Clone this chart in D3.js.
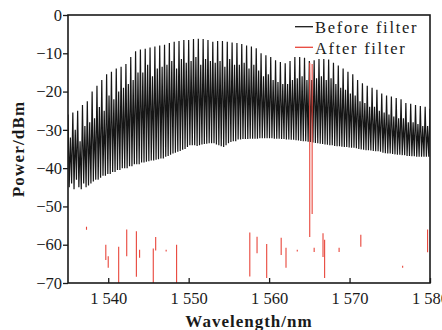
<!DOCTYPE html>
<html>
<head>
<meta charset="utf-8">
<script src="https://cdn.jsdelivr.net/npm/d3@7"></script>
<style>
  html, body { margin: 0; padding: 0; background: #fff; }
  text { font-family: "Liberation Serif", "Times New Roman", serif; fill: #1a1a1a; }
</style>
</head>
<body>
<div id="chart"></div>
<script>
// Before filter: comb spectrum, vertices (peak, trough, peak, ...)
const beforeWl = [
  1535.00, 1535.15, 1535.30, 1535.45, 1535.60, 1535.75, 1535.90, 1536.05, 1536.20, 1536.35, 1536.50, 1536.65, 1536.80, 1536.95, 1537.10, 1537.25, 1537.40, 1537.55, 1537.70, 1537.85,
  1538.00, 1538.15, 1538.30, 1538.45, 1538.60, 1538.75, 1538.90, 1539.05, 1539.20, 1539.35, 1539.50, 1539.65, 1539.80, 1539.95, 1540.10, 1540.25, 1540.40, 1540.55, 1540.70, 1540.85,
  1541.00, 1541.15, 1541.30, 1541.45, 1541.60, 1541.75, 1541.90, 1542.05, 1542.20, 1542.35, 1542.50, 1542.65, 1542.80, 1542.95, 1543.10, 1543.25, 1543.40, 1543.55, 1543.70, 1543.85,
  1544.00, 1544.15, 1544.30, 1544.45, 1544.60, 1544.75, 1544.90, 1545.05, 1545.20, 1545.35, 1545.50, 1545.65, 1545.80, 1545.95, 1546.10, 1546.25, 1546.40, 1546.55, 1546.70, 1546.85,
  1547.00, 1547.15, 1547.30, 1547.45, 1547.60, 1547.75, 1547.90, 1548.05, 1548.20, 1548.35, 1548.50, 1548.65, 1548.80, 1548.95, 1549.10, 1549.25, 1549.40, 1549.55, 1549.70, 1549.85,
  1550.00, 1550.15, 1550.30, 1550.45, 1550.60, 1550.75, 1550.90, 1551.05, 1551.20, 1551.35, 1551.50, 1551.65, 1551.80, 1551.95, 1552.10, 1552.25, 1552.40, 1552.55, 1552.70, 1552.85,
  1553.00, 1553.15, 1553.30, 1553.45, 1553.60, 1553.75, 1553.90, 1554.05, 1554.20, 1554.35, 1554.50, 1554.65, 1554.80, 1554.95, 1555.10, 1555.25, 1555.40, 1555.55, 1555.70, 1555.85,
  1556.00, 1556.15, 1556.30, 1556.45, 1556.60, 1556.75, 1556.90, 1557.05, 1557.20, 1557.35, 1557.50, 1557.65, 1557.80, 1557.95, 1558.10, 1558.25, 1558.40, 1558.55, 1558.70, 1558.85,
  1559.00, 1559.15, 1559.30, 1559.45, 1559.60, 1559.75, 1559.90, 1560.05, 1560.20, 1560.35, 1560.50, 1560.65, 1560.80, 1560.95, 1561.10, 1561.25, 1561.40, 1561.55, 1561.70, 1561.85,
  1562.00, 1562.15, 1562.30, 1562.45, 1562.60, 1562.75, 1562.90, 1563.05, 1563.20, 1563.35, 1563.50, 1563.65, 1563.80, 1563.95, 1564.10, 1564.25, 1564.40, 1564.55, 1564.70, 1564.85,
  1565.00, 1565.15, 1565.30, 1565.45, 1565.60, 1565.75, 1565.90, 1566.05, 1566.20, 1566.35, 1566.50, 1566.65, 1566.80, 1566.95, 1567.10, 1567.25, 1567.40, 1567.55, 1567.70, 1567.85,
  1568.00, 1568.15, 1568.30, 1568.45, 1568.60, 1568.75, 1568.90, 1569.05, 1569.20, 1569.35, 1569.50, 1569.65, 1569.80, 1569.95, 1570.10, 1570.25, 1570.40, 1570.55, 1570.70, 1570.85,
  1571.00, 1571.15, 1571.30, 1571.45, 1571.60, 1571.75, 1571.90, 1572.05, 1572.20, 1572.35, 1572.50, 1572.65, 1572.80, 1572.95, 1573.10, 1573.25, 1573.40, 1573.55, 1573.70, 1573.85,
  1574.00, 1574.15, 1574.30, 1574.45, 1574.60, 1574.75, 1574.90, 1575.05, 1575.20, 1575.35, 1575.50, 1575.65, 1575.80, 1575.95, 1576.10, 1576.25, 1576.40, 1576.55, 1576.70, 1576.85,
  1577.00, 1577.15, 1577.30, 1577.45, 1577.60, 1577.75, 1577.90, 1578.05, 1578.20, 1578.35, 1578.50, 1578.65, 1578.80, 1578.95, 1579.10, 1579.25, 1579.40, 1579.55, 1579.70, 1579.85,
  1580.00
];
const beforeDb = [
  -26, -45, -32, -44, -25.5, -45.5, -30, -43, -25, -45, -33, -45.5, -23.5, -44, -29, -45, -22.5, -44.5, -28, -44,
  -20, -43.5, -27, -43, -18.5, -43, -24, -42.5, -17, -42, -25, -42, -15.5, -41.5, -21, -41.5, -14.8, -41, -22, -41,
  -14, -40.5, -20, -40.5, -13.5, -40, -19, -40, -12.8, -40, -18, -39.5, -11, -39.5, -17, -39, -9.5, -39, -15, -39,
  -9, -38.5, -15, -38.5, -8.8, -38.3, -13, -38.2, -8.5, -38, -16, -38, -8.2, -37.8, -14, -37.7, -8, -37.5, -13.5, -37.5,
  -7.8, -37, -13, -36.8, -7.3, -36.5, -12, -36.2, -7, -36, -14, -35.7, -6.8, -35.5, -11.5, -35.2, -6.5, -35, -12.5, -34.5,
  -6.5, -34, -12, -34, -6.3, -34, -11, -34.2, -6.2, -34, -13, -33.8, -6.3, -33.7, -11.5, -33.6, -6.5, -33.5, -12, -33.5,
  -7, -33.5, -12.5, -33.8, -6.8, -34, -12, -34.3, -6.8, -34.5, -13.5, -34, -7, -33.5, -11.5, -33.2, -7.2, -33, -13, -33,
  -7.3, -32.5, -13, -32.5, -7.6, -32.4, -12.5, -32.4, -8, -32.4, -14, -32.3, -8.2, -32.3, -13, -32.3, -8.7, -32.3, -14.5, -32.2,
  -10, -32.2, -16, -32.2, -10.5, -32.2, -15.5, -32.2, -11, -32.2, -17, -32.3, -11.8, -32.3, -17.5, -32.3, -12.3, -32.4, -18, -32.4,
  -12.6, -32.5, -18, -32.5, -12, -32.6, -17, -32.6, -11, -32.7, -16.5, -32.8, -11, -32.9, -16, -33, -11.2, -33, -17, -33.1,
  -12, -33.2, -17, -33.3, -11.8, -33.4, -16.5, -33.5, -11.5, -33.6, -16, -33.7, -11.5, -33.8, -17, -33.9, -11.6, -34, -16.5, -34,
  -12.5, -34.2, -18, -34.3, -13.2, -34.3, -19, -34.4, -14, -34.5, -19.5, -34.5, -14.8, -34.6, -20.5, -34.7, -15.5, -34.7, -21, -34.8,
  -17, -35, -22.5, -35.1, -17.8, -35.2, -23, -35.3, -18.5, -35.3, -24, -35.4, -19, -35.5, -24, -35.6, -19.5, -35.6, -25, -35.7,
  -20.5, -36, -25.5, -36.1, -21, -36.2, -26, -36.2, -21.3, -36.3, -26.5, -36.4, -21.7, -36.5, -27, -36.5, -22, -36.6, -27, -36.6,
  -23, -36.8, -28, -36.8, -23.2, -36.9, -28, -36.9, -23.5, -37, -28.5, -37, -23.8, -37, -29, -37, -24, -37, -29, -37,
  -24.5
];

// After filter: visible red pieces (wavelength, top dB, bottom dB)
const afterWl = [1537.3, 1539.7, 1540.0, 1541.3, 1542.3, 1543.5, 1543.9, 1545.6, 1545.9, 1547.2,
                 1548.5, 1557.6, 1558.5, 1559.7, 1561.5, 1562.1, 1563.5, 1565.05, 1565.35, 1565.6,
                 1566.7, 1566.9, 1568.7, 1571.4, 1576.6, 1579.7];
const afterTop = [-55.3, -60, -63, -60.5, -56, -56.5, -61.3, -61, -58, -61.3,
                  -60, -56.8, -57.9, -59.8, -58.2, -60.8, -61.3, -12.5, -12.8, -60.8,
                  -57, -58.7, -60.8, -57.4, -65.5, -56];
const afterBottom = [-56.1, -64, -66, -70, -63, -68.4, -63.4, -70, -61.5, -61.8,
                     -70, -68.3, -62.2, -68.7, -62.7, -66, -61.8, -58, -52, -61.9,
                     -63.2, -68.7, -61.9, -60.5, -66, -62];

// Achsen
const xTicks = [1540, 1550, 1560, 1570, 1580];
const yTicks = [0, -10, -20, -30, -40, -50, -60, -70];
const legendNames = ["Before filter", "After filter"];
const legendColors = ["#1a1a1a", "#e8453a"];

const width = 442;
const height = 330;
const mLeft = 68, mRight = 430, mTop = 15, mBottom = 283;

const svg = d3.select("#chart")
    .append("svg")
    .attr("width", width)
    .attr("height", height);

const x = d3.scaleLinear().domain([1535, 1580]).range([mLeft, mRight]);
const y = d3.scaleLinear().domain([-70, 0]).range([mBottom, mTop]);

svg.append("clipPath").attr("id", "plot")
    .append("rect")
    .attr("x", mLeft).attr("y", mTop)
    .attr("width", mRight - mLeft).attr("height", mBottom - mTop);

// Kammspektrum (vor dem Filter)
const combPts = beforeWl.map((w, i) => [w, beforeDb[i]]);
svg.append("path")
    .datum(combPts)
    .attr("clip-path", "url(#plot)")
    .attr("fill", "none")
    .attr("stroke", "#161616")
    .attr("stroke-width", 1.2)
    .attr("stroke-linejoin", "bevel")
    .attr("d", d3.line().x(d => x(d[0])).y(d => y(d[1])));

// Nach dem Filter
svg.append("g")
    .attr("clip-path", "url(#plot)")
    .selectAll("line")
    .data(afterWl)
    .enter()
    .append("line")
    .attr("x1", d => x(d))
    .attr("x2", d => x(d))
    .attr("y1", (d, i) => y(afterTop[i]))
    .attr("y2", (d, i) => y(afterBottom[i]))
    .attr("stroke", "#e8453a")
    .attr("stroke-width", 1.1);

// x-Achse, Ticks nach innen
const xAxis = svg.append("g")
    .attr("transform", `translate(0,${mBottom})`)
    .call(d3.axisBottom(x).tickValues(xTicks).tickSizeInner(-5).tickSizeOuter(0).tickPadding(9)
        .tickFormat(d => { const s = String(d); return s[0] + " " + s.slice(1); }));
xAxis.select(".domain").remove();
xAxis.selectAll("line").attr("stroke", "#1a1a1a").attr("stroke-width", 1.3);
xAxis.selectAll("text").attr("font-size", 16.5).attr("fill", "#1a1a1a");

// y-Achse, Ticks nach aussen
const yAxis = svg.append("g")
    .attr("transform", `translate(${mLeft},0)`)
    .call(d3.axisLeft(y).tickValues(yTicks).tickSize(5).tickPadding(1));
yAxis.select(".domain").remove();
yAxis.selectAll("line").attr("stroke", "#1a1a1a").attr("stroke-width", 1.3);
yAxis.selectAll("text").attr("font-size", 16.5).attr("fill", "#1a1a1a");

// Rahmen
svg.append("rect")
    .attr("x", mLeft).attr("y", mTop)
    .attr("width", mRight - mLeft).attr("height", mBottom - mTop)
    .attr("fill", "none")
    .attr("stroke", "#1a1a1a")
    .attr("stroke-width", 1.6);

// Achsentitel
svg.append("text")
    .attr("x", (mLeft + mRight) / 2)
    .attr("y", 327)
    .attr("text-anchor", "middle")
    .attr("font-size", 17)
    .attr("font-weight", "bold")
    .attr("letter-spacing", 1)
    .text("Wavelength/nm");

svg.append("text")
    .attr("transform", `translate(24,${(mTop + mBottom) / 2}) rotate(-90)`)
    .attr("text-anchor", "middle")
    .attr("font-size", 17)
    .attr("font-weight", "bold")
    .attr("letter-spacing", 1.2)
    .text("Power/dBm");

// Legende
const legend = svg.selectAll(".legend")
    .data(legendNames)
    .enter()
    .append("g")
    .attr("transform", (d, i) => `translate(295,${26.7 + i * 20.6})`);

legend.append("line")
    .attr("x1", 0).attr("x2", 18)
    .attr("stroke", (d, i) => legendColors[i])
    .attr("stroke-width", 1.3);

legend.append("text")
    .attr("x", 20)
    .attr("y", 6.5)
    .attr("font-size", 16.5)
    .attr("letter-spacing", 1.7)
    .text(d => d);
</script>
</body>
</html>
